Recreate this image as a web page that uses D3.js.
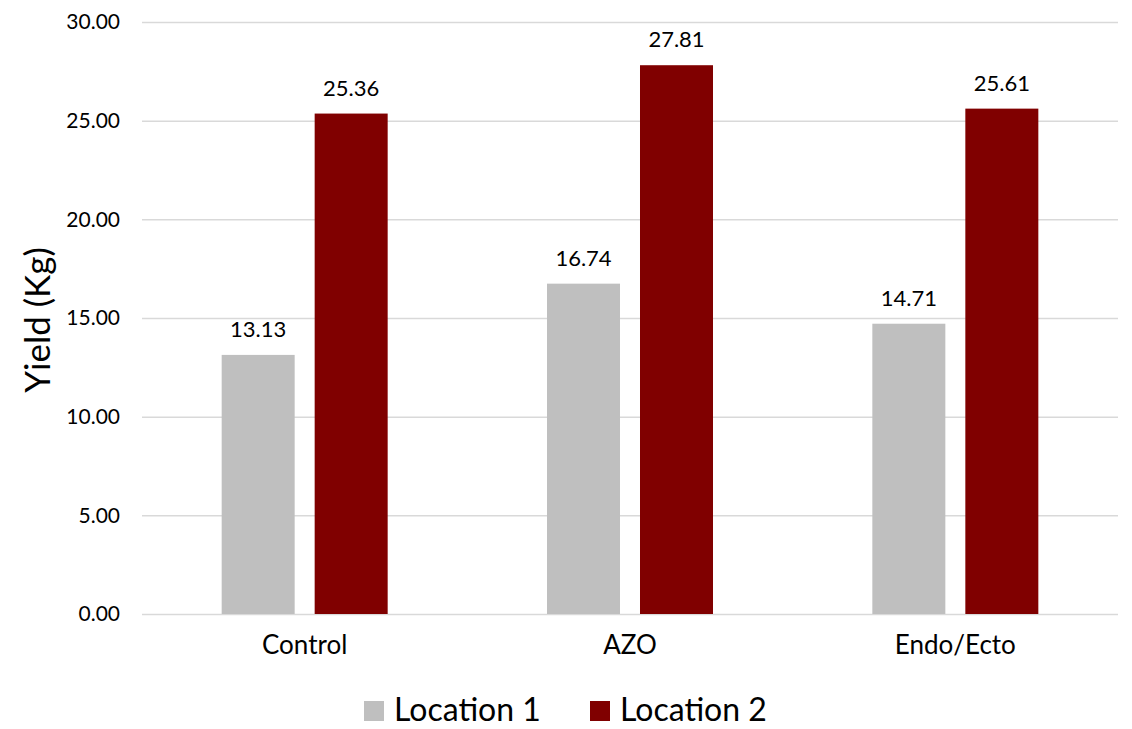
<!DOCTYPE html>
<html>
<head>
<meta charset="utf-8">
<script src="https://cdn.jsdelivr.net/npm/d3@7"></script>
<style>
  html, body { margin: 0; padding: 0; background: #fff; }
  svg { display: block; font-family: "Lato", "Open Sans", sans-serif; }
</style>
</head>
<body>
<svg id="chart" width="1132" height="729"></svg>
<script>
// Yield per treatment at two locations
const categories = ["Control", "AZO", "Endo/Ecto"];
const seriesNames = ["Location 1", "Location 2"];
const location1 = [13.13, 16.74, 14.71];
const location2 = [25.36, 27.81, 25.61];
const yTicks = [0, 5, 10, 15, 20, 25, 30];
const colors = ["#bfbfbf", "#800000"];

const svg = d3.select("#chart");
const plot = { left: 142, right: 1118, top: 22, bottom: 614 };

const x = d3.scaleBand().domain(categories).range([plot.left, plot.right]).paddingInner(0).paddingOuter(0);
const inner = d3.scaleBand().domain(seriesNames).range([0, 166]).paddingInner(0.215);
const y = d3.scaleLinear().domain([0, 30]).range([plot.bottom, plot.top]);

// gridlines
svg.append("g").selectAll("line").data(yTicks).join("line")
  .attr("x1", plot.left).attr("x2", plot.right)
  .attr("y1", d => y(d) + 0.5).attr("y2", d => y(d) + 0.5)
  .attr("stroke", "#d9d9d9").attr("stroke-width", 1.5);

// y axis tick labels
const yAxis = d3.axisLeft(y).tickValues(yTicks).tickFormat(d3.format(".2f")).tickSize(0).tickPadding(22);
const ya = svg.append("g").attr("transform", `translate(${plot.left},0)`).call(yAxis);
ya.select(".domain").remove();
ya.selectAll("text").attr("font-size", 21).attr("fill", "#000").attr("font-family", "Lato, sans-serif");

// x axis labels
const xAxis = d3.axisBottom(x).tickSize(0).tickPadding(22);
const xa = svg.append("g").attr("transform", `translate(0,${plot.bottom})`).call(xAxis);
xa.select(".domain").remove();
xa.selectAll("text").attr("font-size", 26).attr("fill", "#000").attr("font-family", "Lato, sans-serif");

// bars
const series = [location1, location2];
const rows = [];
categories.forEach((c, i) => series.forEach((s, j) => rows.push({ cat: c, name: seriesNames[j], value: s[i], j })));
const groupOffset = (x.bandwidth() - inner.range()[1]) / 2;

svg.append("g").selectAll("rect").data(rows).join("rect")
  .attr("x", d => x(d.cat) + groupOffset + inner(d.name))
  .attr("width", inner.bandwidth())
  .attr("y", d => y(d.value))
  .attr("height", d => y(0) - y(d.value))
  .attr("fill", d => colors[d.j]);

// value labels
svg.append("g").selectAll("text").data(rows).join("text")
  .attr("x", d => x(d.cat) + groupOffset + inner(d.name) + inner.bandwidth() / 2)
  .attr("y", d => y(d.value) - 18)
  .attr("text-anchor", "middle")
  .attr("font-size", 22)
  .attr("fill", "#000")
  .text(d => d.value.toFixed(2));

// y axis title
svg.append("text")
  .attr("transform", `translate(50,320) rotate(-90)`)
  .attr("text-anchor", "middle")
  .attr("font-size", 35)
  .attr("fill", "#000")
  .text("Yield (Kg)");

// legend
const legend = svg.append("g");
const legendItems = [{ name: seriesNames[0], x: 364 }, { name: seriesNames[1], x: 590 }];
legendItems.forEach((d, i) => {
  legend.append("rect").attr("x", d.x).attr("y", 701).attr("width", 20).attr("height", 20).attr("fill", colors[i]);
  legend.append("text").attr("x", d.x + 30).attr("y", 721).attr("font-size", 32).attr("fill", "#000").text(d.name);
});
</script>
</body>
</html>
